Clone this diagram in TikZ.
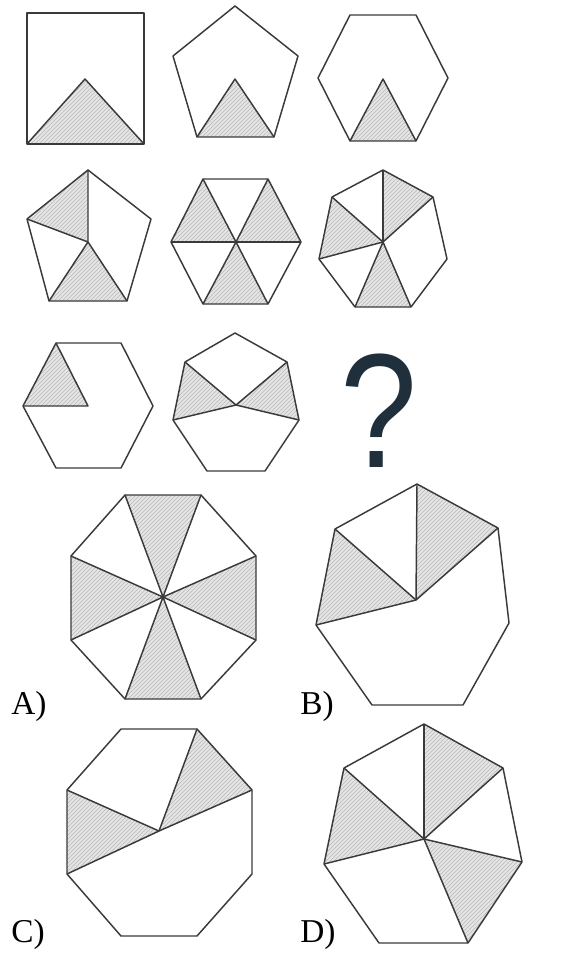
\documentclass[tikz,border=0pt]{standalone}
\usepackage{fontspec}
\setmainfont{Liberation Serif}
\newfontfamily\qfont{Liberation Sans}
\usetikzlibrary{patterns}
\definecolor{edge}{HTML}{3A3A3A}
\definecolor{qcol}{HTML}{1F2F3B}
\tikzset{
  poly/.style={draw=edge, line width=1.1pt, line join=round},
  hatch/.style={fill=gray!20, postaction={pattern=north east lines, pattern color=gray!55}},
  spoke/.style={draw=edge, line width=1.1pt},
  lab/.style={anchor=base west, inner sep=0pt, font=\fontsize{25}{25}\selectfont}
}
\begin{document}
\begin{tikzpicture}[x=0.75pt,y=-0.75pt]
\useasboundingbox (0,0) rectangle (581,963);
% ---------- Row 1 ----------
% square
\coordinate (s1) at (27,13); \coordinate (s2) at (144,13);
\coordinate (s3) at (144,144); \coordinate (s4) at (27,144);
\coordinate (sc) at (85,79);
\fill[hatch] (s4) -- (s3) -- (sc) -- cycle;
\draw[poly] (s1) -- (s2) -- (s3) -- (s4) -- cycle;
\draw[poly] (s4) -- (sc) -- (s3);
% pentagon
\coordinate (p1) at (235,6); \coordinate (p2) at (298,56); \coordinate (p3) at (274,137);
\coordinate (p4) at (197,137); \coordinate (p5) at (173,56); \coordinate (pc) at (235,79);
\fill[hatch] (p4) -- (p3) -- (pc) -- cycle;
\draw[poly] (p1) -- (p2) -- (p3) -- (p4) -- (p5) -- cycle;
\draw[poly] (p4) -- (pc) -- (p3);
% hexagon
\coordinate (h1) at (350,15); \coordinate (h2) at (416,15); \coordinate (h3) at (448,78);
\coordinate (h4) at (416,141); \coordinate (h5) at (350,141); \coordinate (h6) at (318,78);
\coordinate (hc) at (383,79);
\fill[hatch] (h5) -- (h4) -- (hc) -- cycle;
\draw[poly] (h1) -- (h2) -- (h3) -- (h4) -- (h5) -- (h6) -- cycle;
\draw[poly] (h5) -- (hc) -- (h4);
% ---------- Row 2 ----------
% pentagon
\coordinate (q1) at (88,170); \coordinate (q2) at (151,219); \coordinate (q3) at (127,301);
\coordinate (q4) at (49,301); \coordinate (q5) at (27,219); \coordinate (qc) at (88,242);
\fill[hatch] (q1) -- (q5) -- (qc) -- cycle;
\fill[hatch] (q4) -- (q3) -- (qc) -- cycle;
\draw[poly] (q1) -- (q2) -- (q3) -- (q4) -- (q5) -- cycle;
\draw[spoke] (qc) -- (q1) (qc) -- (q5) (qc) -- (q4) (qc) -- (q3);
% hexagon
\coordinate (r1) at (203,179); \coordinate (r2) at (268,179); \coordinate (r3) at (301,242);
\coordinate (r4) at (268,304); \coordinate (r5) at (203,304); \coordinate (r6) at (171,242);
\coordinate (rc) at (236,242);
\fill[hatch] (r1) -- (r6) -- (rc) -- cycle;
\fill[hatch] (r2) -- (r3) -- (rc) -- cycle;
\fill[hatch] (r5) -- (r4) -- (rc) -- cycle;
\draw[poly] (r1) -- (r2) -- (r3) -- (r4) -- (r5) -- (r6) -- cycle;
\foreach \v in {r1,r2,r3,r4,r5,r6} \draw[spoke] (rc) -- (\v);
% heptagon
\coordinate (t1) at (383,170); \coordinate (t2) at (433,197); \coordinate (t3) at (447,259);
\coordinate (t4) at (411,307); \coordinate (t5) at (355,307); \coordinate (t6) at (319,259);
\coordinate (t7) at (332,197); \coordinate (tc) at (383,242);
\fill[hatch] (t1) -- (t2) -- (tc) -- cycle;
\fill[hatch] (t7) -- (t6) -- (tc) -- cycle;
\fill[hatch] (t5) -- (t4) -- (tc) -- cycle;
\draw[poly] (t1) -- (t2) -- (t3) -- (t4) -- (t5) -- (t6) -- (t7) -- cycle;
\foreach \v in {t1,t2,t4,t5,t6,t7} \draw[spoke] (tc) -- (\v);
% ---------- Row 3 ----------
% hexagon
\coordinate (u1) at (56,343); \coordinate (u2) at (121,343); \coordinate (u3) at (153,406);
\coordinate (u4) at (121,468); \coordinate (u5) at (56,468); \coordinate (u6) at (23,406);
\coordinate (uc) at (88,406);
\fill[hatch] (u1) -- (u6) -- (uc) -- cycle;
\draw[poly] (u1) -- (u2) -- (u3) -- (u4) -- (u5) -- (u6) -- cycle;
\draw[poly] (u6) -- (uc) -- (u1);
% heptagon
\coordinate (v1) at (235,333); \coordinate (v2) at (287,362); \coordinate (v3) at (299,420);
\coordinate (v4) at (265,471); \coordinate (v5) at (207,471); \coordinate (v6) at (173,420);
\coordinate (v7) at (185,362); \coordinate (vc) at (236,405);
\fill[hatch] (v7) -- (v6) -- (vc) -- cycle;
\fill[hatch] (v2) -- (v3) -- (vc) -- cycle;
\draw[poly] (v1) -- (v2) -- (v3) -- (v4) -- (v5) -- (v6) -- (v7) -- cycle;
\foreach \v in {v2,v3,v6,v7} \draw[spoke] (vc) -- (\v);
% question mark
\node[anchor=base, inner sep=0pt, text=qcol, xscale=0.85, font=\qfont\fontsize{122}{122}\selectfont] (qm) at (379,467) {?};
% ---------- Option A ----------
\coordinate (a1) at (125,495); \coordinate (a2) at (201,495); \coordinate (a3) at (256,556);
\coordinate (a4) at (256,640); \coordinate (a5) at (201,699); \coordinate (a6) at (125,699);
\coordinate (a7) at (71,640); \coordinate (a8) at (71,556); \coordinate (ac) at (163,597);
\fill[hatch] (a1) -- (a2) -- (ac) -- cycle;
\fill[hatch] (a3) -- (a4) -- (ac) -- cycle;
\fill[hatch] (a5) -- (a6) -- (ac) -- cycle;
\fill[hatch] (a7) -- (a8) -- (ac) -- cycle;
\draw[poly] (a1) -- (a2) -- (a3) -- (a4) -- (a5) -- (a6) -- (a7) -- (a8) -- cycle;
\foreach \v in {a1,a2,a3,a4,a5,a6,a7,a8} \draw[spoke] (ac) -- (\v);
\fill[edge] (ac) circle (2);
% ---------- Option B ----------
\coordinate (b1) at (417,484); \coordinate (b2) at (498,528); \coordinate (b3) at (509,623);
\coordinate (b4) at (463,705); \coordinate (b5) at (372,705); \coordinate (b6) at (316,625);
\coordinate (b7) at (335,529); \coordinate (bc) at (416,600);
\fill[hatch] (b1) -- (b2) -- (bc) -- cycle;
\fill[hatch] (b7) -- (b6) -- (bc) -- cycle;
\draw[poly] (b1) -- (b2) -- (b3) -- (b4) -- (b5) -- (b6) -- (b7) -- cycle;
\foreach \v in {b1,b2,b6,b7} \draw[spoke] (bc) -- (\v);
% ---------- Option C ----------
\coordinate (c1) at (121,729); \coordinate (c2) at (197,729); \coordinate (c3) at (252,790);
\coordinate (c4) at (252,874); \coordinate (c5) at (197,936); \coordinate (c6) at (121,936);
\coordinate (c7) at (67,874); \coordinate (c8) at (67,790); \coordinate (cc) at (159,831);
\fill[hatch] (c2) -- (c3) -- (cc) -- cycle;
\fill[hatch] (c8) -- (c7) -- (cc) -- cycle;
\draw[poly] (c1) -- (c2) -- (c3) -- (c4) -- (c5) -- (c6) -- (c7) -- (c8) -- cycle;
\foreach \v in {c2,c3,c7,c8} \draw[spoke] (cc) -- (\v);
% ---------- Option D ----------
\coordinate (d1) at (424,724); \coordinate (d2) at (503,768); \coordinate (d3) at (522,862);
\coordinate (d4) at (468,943); \coordinate (d5) at (379,943); \coordinate (d6) at (324,864);
\coordinate (d7) at (344,768); \coordinate (dc) at (424,839);
\fill[hatch] (d1) -- (d2) -- (dc) -- cycle;
\fill[hatch] (d7) -- (d6) -- (dc) -- cycle;
\fill[hatch] (d3) -- (d4) -- (dc) -- cycle;
\draw[poly] (d1) -- (d2) -- (d3) -- (d4) -- (d5) -- (d6) -- (d7) -- cycle;
\foreach \v in {d1,d2,d3,d4,d6,d7} \draw[spoke] (dc) -- (\v);
% ---------- labels ----------
\node[lab] (la) at (11,714) {A)};
\node[lab] (lb) at (300,714) {B)};
\node[lab] (lc) at (11,942) {C)};
\node[lab] (ld) at (300,942) {D)};
\end{tikzpicture}
\end{document}
